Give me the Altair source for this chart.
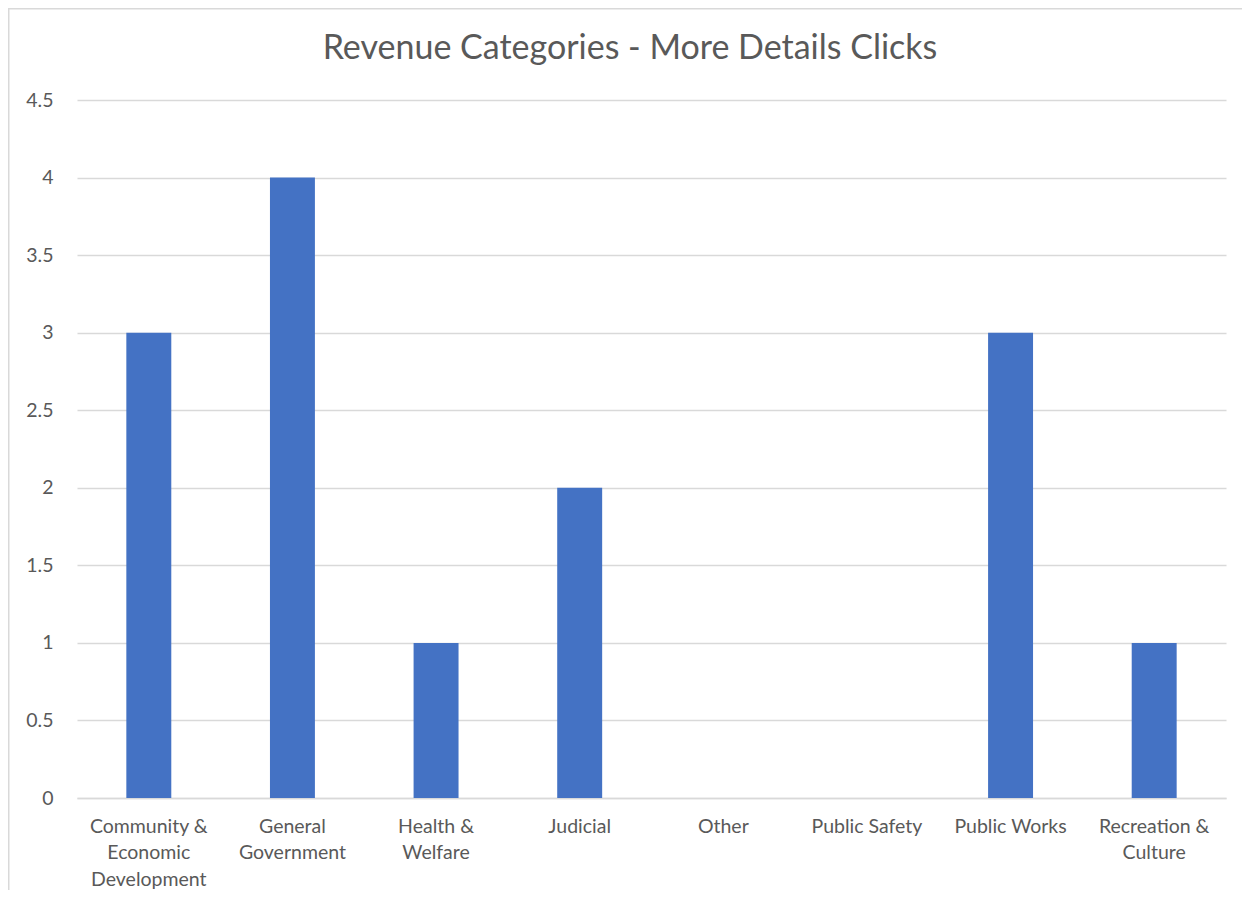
import altair as alt
import pandas as pd

categories = ["Community & Economic Development", "General Government", "Health & Welfare",
              "Judicial", "Other", "Public Safety", "Public Works", "Recreation & Culture"]
label_lines = [["Community &", "Economic", "Development"], ["General", "Government"],
               ["Health &", "Welfare"], ["Judicial"], ["Other"], ["Public Safety"],
               ["Public Works"], ["Recreation &", "Culture"]]
values = [3, 4, 1, 2, 0, 0, 3, 1]
y_ticks = [0, 0.5, 1, 1.5, 2, 2.5, 3, 3.5, 4, 4.5]
title_text = "Revenue Categories - More Details Clicks"

df = pd.DataFrame({"category": categories, "value": values})

expr = "datum.label"
for cat, lines in reversed(list(zip(categories, label_lines))):
    arr = "[" + ",".join("'" + l + "'" for l in lines) + "]"
    expr = f"datum.label == '{cat}' ? {arr} : ({expr})"

W, H = 1149, 698
PL, PT, PR, PB = 69, 92, 16, 92
FONT = "Lato"
TXT = "#595959"
GRID = "#d9d9d9"

bars = alt.Chart(df).mark_bar(color="#4472C4").encode(
    x=alt.X("category:N", sort=categories,
            scale=alt.Scale(paddingInner=0.687, paddingOuter=0.3435),
            axis=alt.Axis(title=None, labelAngle=0, labelExpr=expr, labelFont=FONT,
                          labelFontSize=19.5, labelColor=TXT, labelPadding=19,
                          labelBaseline="top", labelLineHeight=26.5, ticks=False,
                          domainColor=GRID, domainWidth=1.5, grid=False)),
    y=alt.Y("value:Q", scale=alt.Scale(domain=[0, 4.5], nice=False),
            axis=alt.Axis(title=None, values=y_ticks, format="~g", labelFont=FONT,
                          labelFontSize=19.5, labelColor=TXT, labelPadding=24, ticks=False,
                          domain=False, grid=True, gridColor=GRID, gridWidth=1.5)),
)

frame_data = alt.Data(values=[{}])
top_edge = alt.Chart(frame_data).mark_rule(color=GRID, strokeWidth=1.5).encode(
    x=alt.value(-PL), x2=alt.value(W + PR), y=alt.value(-PT + 0.75),
)
left_edge = alt.Chart(frame_data).mark_rule(color=GRID, strokeWidth=1.5).encode(
    x=alt.value(-PL + 0.75), y=alt.value(-PT), y2=alt.value(H + PB),
)

title = alt.Chart(alt.Data(values=[{"t": title_text}])).mark_text(
    font=FONT, fontSize=34, color=TXT, align="center", baseline="alphabetic"
).encode(
    text="t:N", x=alt.value(553), y=alt.value(-41),
)

chart = alt.layer(top_edge, left_edge, bars, title).properties(
    width=W, height=H,
    autosize=alt.AutoSizeParams(type="none"),
    padding={"left": PL, "top": PT, "right": PR, "bottom": PB},
).configure_view(stroke=None)

chart.save("out.html", embed_options={"renderer": "svg", "actions": False})
